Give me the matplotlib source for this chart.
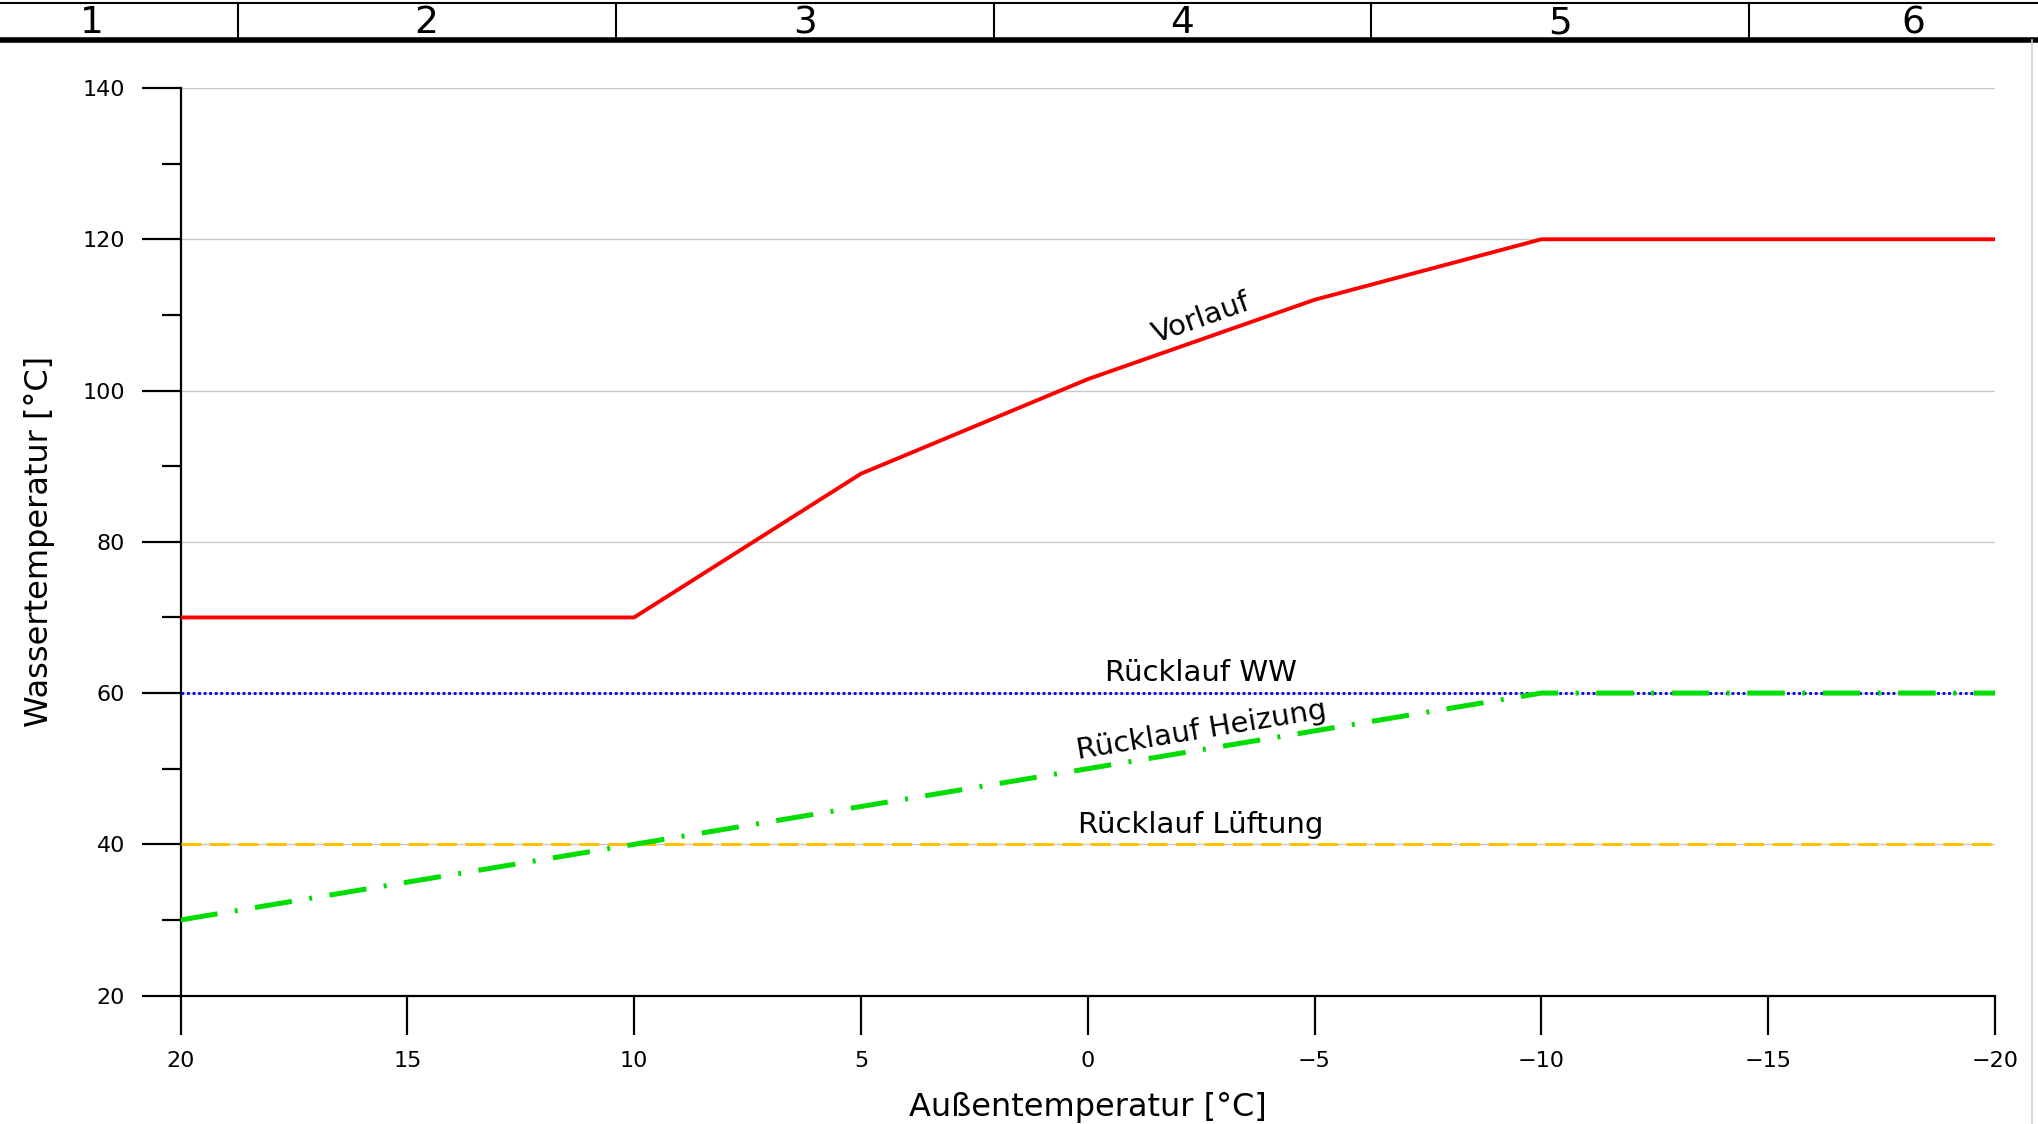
import matplotlib

matplotlib.use('Agg')
import matplotlib.pyplot as plt
from matplotlib.lines import Line2D

plt.rcParams['font.family'] = ['DejaVu Sans']
plt.rcParams['axes.unicode_minus'] = True

# Daten
aussen_vorlauf = [20, 10, 5, 0, -5, -10, -20]
vorlauf = [70, 70, 89, 101.5, 112, 120, 120]

aussen_heizung = [20, -10, -20]
ruecklauf_heizung = [30, 60, 60]

aussen_konstant = [20, -20]
ruecklauf_ww = [60, 60]
ruecklauf_lueftung = [40, 40]

x_ticks = [20, 15, 10, 5, 0, -5, -10, -15, -20]
y_major = [20, 40, 60, 80, 100, 120, 140]
y_minor = [30, 50, 70, 90, 110, 130]

kopf_nummern = ['1', '2', '3', '4', '5', '6']
kopf_x = [92, 426, 805, 1182, 1560, 1913]
kopf_trenner = [238, 616, 994, 1371, 1749]

W, H = 2038, 1124
fig = plt.figure(figsize=(W / 100, H / 100), dpi=100)
ax = fig.add_axes([180.5 / W, 1 - 995.6 / H, (1995 - 180.5) / W, (995.6 - 88) / H])

ax.plot(aussen_konstant, ruecklauf_lueftung, color='#ffc000', lw=2.2,
        dashes=(6.5, 2.8), zorder=3)
ax.plot(aussen_konstant, ruecklauf_ww, color='#0000ee', lw=2.0,
        linestyle=(0, (1, 1)), zorder=4)
ax.plot(aussen_heizung, ruecklauf_heizung, color='#00dd00', lw=3.6,
        dashes=(7.5, 3.5, 0.6, 3.5), zorder=5)
ax.plot(aussen_vorlauf, vorlauf, color='#ff0000', lw=2.8, zorder=6)

ax.set_xlim(20, -20)
ax.set_ylim(20, 140)
ax.set_xticks(x_ticks)
ax.set_yticks(y_major)
ax.set_yticks(y_minor, minor=True)
ax.tick_params(axis='both', which='major', direction='out', length=28, width=1.6,
               labelsize=16, pad=12, colors='black')
ax.tick_params(axis='y', which='minor', direction='out', length=14, width=1.6)
ax.grid(axis='y', which='major', color='#c8c8c8', lw=1.0, zorder=0)

for s in ['top', 'right']:
    ax.spines[s].set_visible(False)
for s in ['left', 'bottom']:
    ax.spines[s].set_linewidth(1.6)

ax.set_xlabel('Außentemperatur [°C]', fontsize=23, labelpad=15)
ax.set_ylabel('Wassertemperatur [°C]', fontsize=23, labelpad=20)

# Beschriftungen der Kurven
ax.text(-2.5, 109.6, 'Vorlauf', fontsize=21, rotation=19.5, ha='center', va='center')
ax.text(-2.5, 62.7, 'Rücklauf WW', fontsize=21, ha='center', va='center')
ax.text(-2.5, 55.0, 'Rücklauf Heizung', fontsize=21, rotation=9.4, ha='center', va='center')
ax.text(-2.5, 42.6, 'Rücklauf Lüftung', fontsize=21, ha='center', va='center')

# Kopfzeile
fig.add_artist(Line2D([0, 1], [1 - 3 / H, 1 - 3 / H], color='black', lw=1.5))
fig.add_artist(Line2D([0, 1], [1 - 40 / H, 1 - 40 / H], color='black', lw=4))
for xt in kopf_trenner:
    fig.add_artist(Line2D([xt / W, xt / W], [1 - 3 / H, 1 - 40 / H], color='black', lw=1.5))
for nr, xn in zip(kopf_nummern, kopf_x):
    fig.text(xn / W, 1 - 23 / H, nr, fontsize=27, ha='center', va='center')
fig.add_artist(Line2D([2032 / W, 2032 / W], [0, 1 - 40 / H], color='#d0d0d0', lw=1.2))

fig.savefig('out.png', dpi=100)
